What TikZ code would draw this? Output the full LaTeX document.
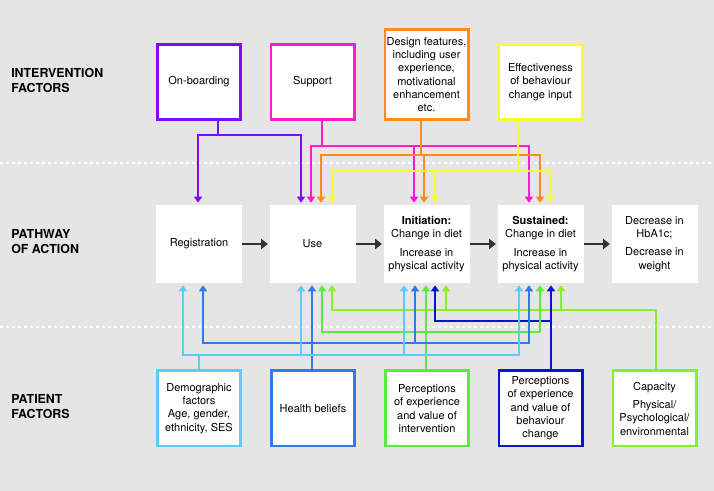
\documentclass[tikz,border=0pt]{standalone}
\usepackage{fontspec}
\setmainfont{TeX Gyre Heros}
\usetikzlibrary{arrows.meta}
\definecolor{bgc}{HTML}{E5E5E5}
\definecolor{cpur}{HTML}{7F0BFF}
\definecolor{cmag}{HTML}{FF1ACD}
\definecolor{cora}{HTML}{FF8A1E}
\definecolor{cyel}{HTML}{FAFA32}
\definecolor{clbl}{HTML}{5BCBFA}
\definecolor{cblu}{HTML}{2F7BEA}
\definecolor{cgrn}{HTML}{55EE3A}
\definecolor{cdbl}{HTML}{0A14D0}
\definecolor{clim}{HTML}{8AEE28}
\definecolor{cflow}{HTML}{333333}
\begin{document}
\begin{tikzpicture}[x=0.75pt,y=-0.75pt,
  box/.style={draw, line width=2pt, fill=white, minimum width=62.5pt, minimum height=56.5pt, align=center, font=\fontsize{8.25}{10}\selectfont, inner sep=1pt},
  pbox/.style={fill=white, minimum width=64.5pt, minimum height=58.5pt, align=center, font=\fontsize{8.25}{10}\selectfont, inner sep=1pt},
  conn/.style={line width=1.5pt, -{Triangle[width=6pt,length=4.5pt]}, shorten >=1.5pt},
  flow/.style={line width=2.2pt, draw=cflow, -{Triangle[width=7.5pt,length=5pt]}, shorten >=1pt},
  sect/.style={anchor=west, align=left, inner sep=0pt, font=\bfseries\fontsize{9.3}{11.25}\selectfont},
  sep/.style={draw=white, line width=1.2pt, dash pattern=on 2.5pt off 2pt}]
\fill[bgc] (0,0) rectangle (714,491);
\useasboundingbox (0,0) rectangle (714,491);
\draw[sep] (0,163) -- (714,163);
\draw[sep] (0,327) -- (714,327);
% section labels
\node[sect] (l1) at (11,80) {INTERVENTION\\FACTORS};
\node[sect] (l2) at (11,242) {PATHWAY\\OF ACTION};
\node[sect] (l3) at (11,407) {PATIENT\\FACTORS};
% top boxes
\node[box, draw=cpur] (onb) at (199,82) {\raisebox{2pt}{On-boarding}};
\node[box, draw=cmag] (sup) at (312.5,82) {\raisebox{2pt}{Support}};
\node[box, draw=cora, minimum height=67.5pt] (des) at (426.5,74.5) {Design features,\\including user\\experience,\\motivational\\enhancement\\etc.};
\node[box, draw=cyel] (eff) at (540.5,82) {Effectiveness\\of behaviour\\change input};
% pathway boxes
\node[pbox] (reg) at (199,244) {Registration};
\node[pbox] (use) at (312.5,244) {Use};
\node[pbox] (ini) at (426.5,244) {\textbf{Initiation:}\\Change in diet\\[3.75pt]Increase in\\physical activity};
\node[pbox] (sus) at (540.5,244) {\textbf{Sustained:}\\Change in diet\\[3.75pt]Increase in\\physical activity};
\node[pbox] (dec) at (654.5,244) {Decrease in\\HbA1c;\\[3.75pt]Decrease in\\weight};
% patient boxes
\node[box, draw=clbl] (dem) at (199,408.5) {Demographic\\factors\\Age, gender,\\ethnicity, SES};
\node[box, draw=cblu] (hb) at (313,408.5) {Health beliefs};
\node[box, draw=cgrn] (pi) at (427,408.5) {Perceptions\\of experience\\and value of\\intervention};
\node[box, draw=cdbl] (pb) at (540.5,408.5) {Perceptions\\of experience\\and value of\\behaviour\\change};
\node[box, draw=clim] (cap) at (654.5,408.5) {Capacity\\[3.75pt]Physical/\\Psychological/\\environmental};
% flow arrows
\draw[flow] (reg) -- (use);
\draw[flow] (use) -- (ini);
\draw[flow] (ini) -- (sus);
\draw[flow] (sus) -- (dec);
% purple
\draw[conn, cpur] (218,0 |- onb.south) -- (218,135) -| (198,0 |- reg.north);
\draw[conn, cpur] (218,135) -| (301,0 |- use.north);
% magenta
\draw[conn, cmag] (322,0 |- sup.south) -- (322,146) -| (311,0 |- use.north);
\draw[conn, cmag] (322,146) -| (414,0 |- ini.north);
\draw[conn, cmag] (322,146) -| (529,0 |- sus.north);
% orange
\draw[conn, cora] (421,0 |- des.south) -- (421,155) -| (321,0 |- use.north);
\draw[conn, cora] (421,155) -| (424,0 |- ini.north);
\draw[conn, cora] (421,155) -| (540,0 |- sus.north);
% yellow
\draw[conn, cyel] (518,0 |- eff.south) -- (518,171) -| (332,0 |- use.north);
\draw[conn, cyel] (518,171) -| (435,0 |- ini.north);
\draw[conn, cyel] (518,171) -| (550,0 |- sus.north);
% lime (capacity)
\draw[conn, clim] (656,0 |- cap.north) -- (656,310) -| (332,0 |- use.south);
\draw[conn, clim] (656,310) -| (446,0 |- ini.south);
\draw[conn, clim] (656,310) -| (561,0 |- sus.south);
% dark blue (perceptions behaviour)
\draw[conn, cdbl] (551,0 |- pb.north) -- (551,0 |- sus.south);
\draw[conn, cdbl] (551,321) -| (435,0 |- ini.south);
% green (perceptions intervention)
\draw[conn, cgrn] (426,0 |- pi.north) -- (426,0 |- ini.south);
\draw[conn, cgrn] (426,332) -| (322,0 |- use.south);
\draw[conn, cgrn] (426,332) -| (540,0 |- sus.south);
% blue (health beliefs)
\draw[conn, cblu] (312,0 |- hb.north) -- (312,0 |- use.south);
\draw[conn, cblu] (312,343) -| (203,0 |- reg.south);
\draw[conn, cblu] (312,343) -| (415,0 |- ini.south);
\draw[conn, cblu] (312,343) -| (529,0 |- sus.south);
% light blue (demographic)
\draw[conn, clbl] (199,0 |- dem.north) -- (199,355) -| (183,0 |- reg.south);
\draw[conn, clbl] (199,355) -| (301,0 |- use.south);
\draw[conn, clbl] (199,355) -| (404,0 |- ini.south);
\draw[conn, clbl] (199,355) -| (519,0 |- sus.south);
\end{tikzpicture}
\end{document}
